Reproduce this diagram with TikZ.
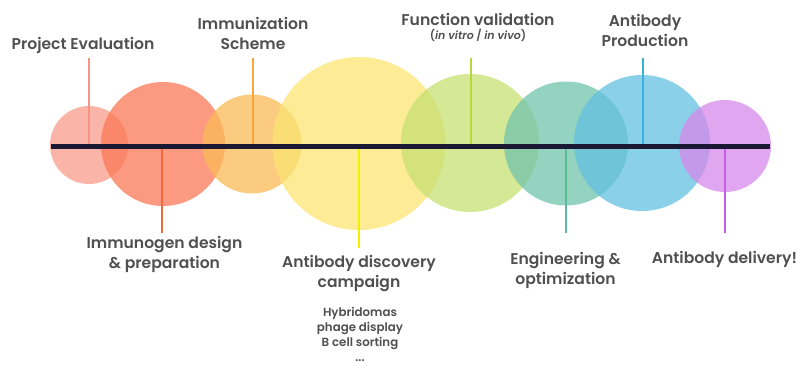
\documentclass[tikz,border=0pt]{standalone}
\usepackage{fontspec}
\setmainfont{Poppins}
\newfontfamily\stagefont{Poppins SemiBold}
\usetikzlibrary{positioning}
\definecolor{evalPink}{RGB}{250,156,139}
\definecolor{immuRed}{RGB}{250,120,86}
\definecolor{schemeOrange}{RGB}{250,186,86}
\definecolor{discoYellow}{RGB}{252,228,114}
\definecolor{validGreen}{RGB}{198,224,113}
\definecolor{engTeal}{RGB}{112,196,171}
\definecolor{prodBlue}{RGB}{99,192,224}
\definecolor{delivPurple}{RGB}{214,136,235}
\definecolor{evalLine}{HTML}{F59582}
\definecolor{immuLine}{HTML}{F26A3C}
\definecolor{schemeLine}{HTML}{F9A53A}
\definecolor{discoLine}{HTML}{F5F000}
\definecolor{validLine}{HTML}{B5D93A}
\definecolor{engLine}{HTML}{5DBB98}
\definecolor{prodLine}{HTML}{3BAFD9}
\definecolor{delivLine}{HTML}{C85EE8}
\definecolor{axisNavy}{HTML}{1A1833}
\definecolor{labelGray}{HTML}{505050}

\begin{document}
\begin{tikzpicture}[x=1pt, y=-1pt,
    stage/.style={circle, fill opacity=0.75, inner sep=0pt, draw=none},
    stem/.style={line width=2pt},
    lbl/.style={font=\stagefont\fontsize{15.6}{20}\selectfont, text=labelGray, align=center, inner sep=0pt, anchor=north},
    sublbl/.style={font=\stagefont\fontsize{11}{12}\selectfont, text=labelGray, inner sep=0pt, anchor=north},
    methods/.style={font=\stagefont\fontsize{11.8}{15}\selectfont, text=labelGray, align=center, inner sep=0pt, anchor=north}]
  \useasboundingbox (0,0) rectangle (812,373);
  % circles along the timeline
  \foreach \n/\cx/\cy/\r/\col in {c1/89/145/39/evalPink, c2/163/144/62/immuRed,
      c3/252/144/49.5/schemeOrange, c4/359/143.5/86.5/discoYellow,
      c5/470/143/69/validGreen, c6/566/143.5/62/engTeal,
      c7/642/143/68/prodBlue, c8/725/146/46/delivPurple} {
    \node[stage, fill=\col, minimum size=2*\r] (\n) at (\cx,\cy) {};
  }
  % stems: up for 1,3,5,7 and down for 2,4,6,8
  \foreach \i/\x/\yend/\col in {1/89/58/evalLine, 3/253/58/schemeLine,
      5/471/58/validLine, 7/643/58/prodLine, 2/162/233/immuLine,
      4/359/248/discoLine, 6/566/233/engLine, 8/725/233/delivLine} {
    \coordinate (a\i) at (\x,146);
    \coordinate (s\i) at (\x,\yend);
    \draw[stem, \col] (a\i) -- (s\i);
  }
  \coordinate (tl) at (51,146);
  \coordinate (tr) at (770,146);
  \draw[axisNavy, line width=5pt] (tl) -- (tr);
  % labels
  \node[lbl] (eval) at (83,37) {Project Evaluation};
  \node[lbl] (scheme) at (253,17) {Immunization\\Scheme};
  \node[lbl] (valid) at (478,13) {Function validation};
  \node[sublbl, below=3pt of valid] (vivo) {(\textit{in vitro} / \textit{in vivo})};
  \node[lbl] (prod) at (645,14) {Antibody\\Production};
  \node[lbl] (immu) at (164.5,236) {Immunogen design\\\& preparation};
  \node[lbl] (disco) at (359,255) {Antibody discovery\\campaign};
  \node[methods] (tools) at (360,307) {Hybridomas\\phage display\\B cell sorting\\...};
  \node[lbl] (eng) at (565.5,252) {Engineering \&\\optimization};
  \node[lbl] (deliv) at (724.5,251) {Antibody delivery!};
\end{tikzpicture}
\end{document}
